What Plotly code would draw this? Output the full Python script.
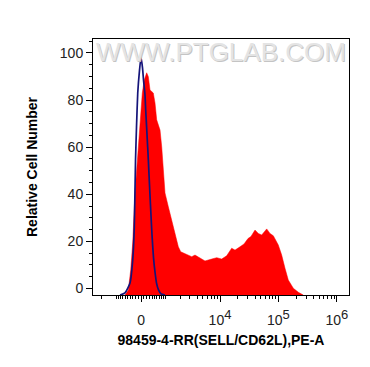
import numpy as np
import plotly.graph_objects as go

# Biexponential display: channel position in "decades" units, d = asinh(v / (2*W)) / ln(10)
W = 447.0

def disp(v):
    return np.arcsinh(np.asarray(v, dtype=float) / (2 * W)) / np.log(10)

# Sample (red, filled) histogram: x in display units, y = relative cell number
red_x = [-0.274, -0.217, -0.176, -0.142, -0.103, -0.060, -0.017, 0.022, 0.056, 0.097,
         0.125, 0.154, 0.210, 0.239, 0.268, 0.325, 0.354, 0.381, 0.410, 0.467,
         0.525, 0.581, 0.638, 0.679, 0.781, 0.867, 0.923, 1.009, 1.094, 1.209,
         1.294, 1.379, 1.465, 1.550, 1.607, 1.692, 1.761, 1.829, 1.880, 1.949,
         2.005, 2.063, 2.149, 2.205, 2.262, 2.347, 2.405, 2.462, 2.518, 2.604,
         2.690, 2.774]
red_y = [-2.76, -0.6, 7.9, 19.3, 40.6, 54.6, 68.6, 83.0, 88.5, 91.6,
         89.9, 84.3, 83.0, 78.8, 71.6, 67.3, 60.1, 50.3, 40.6, 34.7,
         29.1, 23.6, 17.7, 15.6, 14.5, 13.5, 14.2, 12.8, 11.7, 12.5,
         13.1, 12.5, 13.9, 17.1, 16.3, 17.7, 18.9, 21.2, 22.1, 24.8,
         23.4, 22.7, 25.3, 23.4, 22.4, 18.5, 14.2, 8.6, 3.6, 0.1,
         -1.6, -2.76]

# Control (blue line) histogram
blue_x = [-0.359, -0.274, -0.188, -0.142, -0.115, -0.094, -0.077, -0.056, -0.026, 0.0,
          0.026, 0.043, 0.068, 0.080, 0.103, 0.125, 0.145, 0.166, 0.188, 0.214,
          0.239, 0.265, 0.299, 0.342, 0.410]
blue_y = [-2.76, -1.9, 2.3, 12.1, 26.1, 54.6, 68.6, 83.0, 92.6, 98.3,
          93.6, 88.5, 82.2, 75.8, 65.2, 54.6, 44.0, 33.3, 22.7, 13.0,
          7.0, 2.3, -0.6, -2.3, -2.76]

x_major_vals = [0, 1e4, 1e5, 1e6]
x_major_text = ["0",
                "10<sup><span style='font-size:13px'>4</span></sup>",
                "10<sup><span style='font-size:13px'>5</span></sup>",
                "10<sup><span style='font-size:13px'>6</span></sup>"]
y_ticks = [0, 20, 40, 60, 80, 100]

minor_raw = []
for k in [2, 3, 4, 5]:
    for m in range(1, 10):
        v = m * 10 ** k
        if k in (2, 3):
            minor_raw.append(-v)
        minor_raw.append(v)
minor_raw = [v for v in minor_raw if v not in x_major_vals and v >= -2000]
minor_pos = disp(minor_raw).tolist()

fig = go.Figure()
fig.add_trace(go.Scatter(x=red_x, y=red_y, mode="lines", fill="toself",
                         fillcolor="#ff0000", line=dict(color="#ff0000", width=0.5),
                         hoverinfo="skip", showlegend=False))
fig.add_trace(go.Scatter(x=blue_x, y=blue_y, mode="lines",
                         line=dict(color="#14147a", width=1.7, shape="spline", smoothing=0.5),
                         hoverinfo="skip", showlegend=False))

font_main = "Liberation Sans, Arial, sans-serif"
fig.update_layout(
    width=370, height=367,
    margin=dict(l=93, r=21, t=39, b=72),
    paper_bgcolor="white", plot_bgcolor="white",
    font=dict(family=font_main, color="#222"),
    xaxis=dict(
        range=[-0.821, 3.556],
        tickmode="array", tickvals=disp(x_major_vals).tolist(), ticktext=x_major_text,
        ticks="outside", ticklen=6, tickwidth=1, tickcolor="black",
        tickfont=dict(size=14, color="#222"), ticklabelstandoff=6,
        showline=True, linecolor="black", linewidth=1, mirror=True,
        showgrid=False, zeroline=False,
        minor=dict(tickmode="array", tickvals=minor_pos, ticks="outside",
                   ticklen=3, tickwidth=1, tickcolor="black", showgrid=False),
        title=dict(text="<b>98459-4-RR(SELL/CD62L),PE-A</b>",
                   font=dict(size=14, color="black"), standoff=8),
    ),
    yaxis=dict(
        range=[-2.76, 105.94],
        tickmode="array", tickvals=y_ticks,
        ticks="outside", ticklen=6, tickwidth=1, tickcolor="black",
        tickfont=dict(size=14, color="#222"),
        showline=True, linecolor="black", linewidth=1, mirror=True,
        showgrid=False, zeroline=False,
        minor=dict(dtick=5, tick0=0, ticks="outside", ticklen=3, tickwidth=1,
                   tickcolor="black", showgrid=False),
        title=dict(text="<b>Relative Cell Number</b>",
                   font=dict(size=14, color="black"), standoff=18),
    ),
)

fig.add_annotation(text="WWW.PTGLAB.COM", xref="paper", yref="paper",
                   x=0.5, y=0.95, xanchor="center", yanchor="middle", showarrow=False,
                   font=dict(family=font_main, size=26, color="#e4e4e4",
                             shadow="1px 1px 0px #c4c4c4"))

fig.write_html("out.html")
